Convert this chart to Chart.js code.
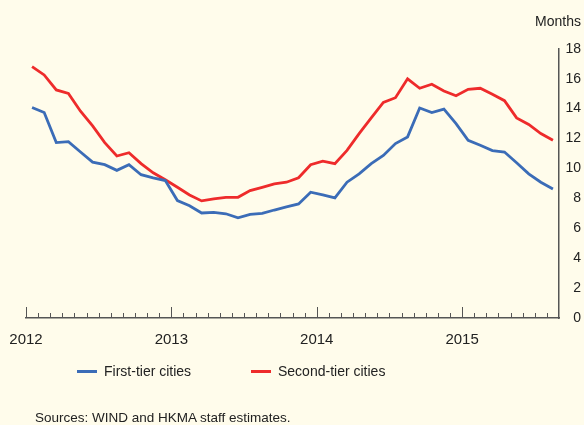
<!DOCTYPE html>
<html>
<head>
<meta charset="utf-8">
<script src="https://cdn.jsdelivr.net/npm/chart.js@4/dist/chart.umd.min.js"></script>
<style>
  html, body { margin: 0; padding: 0; background: #fffceb; }
  #wrap { position: relative; width: 584px; height: 425px; font-family: "Liberation Sans", Arial, sans-serif; color: #222; }
  #chart { position: absolute; left: 0; top: 0; }
  .legend-item { position: absolute; top: 362px; font-size: 14px; line-height: 18px; white-space: nowrap; }
  .swatch { display: inline-block; width: 20px; height: 3px; vertical-align: middle; margin-right: 7px; position: relative; top: -1px; }
  #sources { position: absolute; left: 35px; top: 410px; font-size: 13.5px; line-height: 16px; white-space: nowrap; }
</style>
</head>
<body>
<div id="wrap">
  <canvas id="chart" width="584" height="425"></canvas>
  <div class="legend-item" style="left:77px"><span class="swatch" style="background:#3b6cb7"></span>First-tier cities</div>
  <div class="legend-item" style="left:251px"><span class="swatch" style="background:#ee2b2b"></span>Second-tier cities</div>
  <div id="sources">Sources: WIND and HKMA staff estimates.</div>
</div>
<script>
// monthly values, Jan 2012 - Aug 2015
const yearLabels = ["2012", "2013", "2014", "2015"];
const axisMonths = 44; // axis runs Jan 2012 to end of Aug 2015
const firstTier = [
    14.08, 13.74, 11.73, 11.79, 11.10, 10.42, 10.25, 9.87, 10.25, 9.58, 9.37, 9.19,
    7.85, 7.51, 7.02, 7.06, 6.97, 6.70, 6.93, 6.99, 7.22, 7.43,
    7.63, 8.41, 8.23, 8.03, 9.08, 9.64, 10.32, 10.87, 11.66, 12.11,
    14.04, 13.74, 13.97, 13.00, 11.88, 11.55, 11.19, 11.10, 10.38, 9.64, 9.08, 8.63
];
const secondTier = [
    16.81, 16.25, 15.25, 15.02, 13.83, 12.84, 11.73, 10.83, 11.05, 10.32, 9.71, 9.24,
    8.74, 8.23, 7.83, 7.96, 8.07, 8.07, 8.52, 8.74, 8.97, 9.08,
    9.38, 10.25, 10.49, 10.32, 11.21, 12.33, 13.38, 14.42, 14.73, 15.99,
    15.36, 15.63, 15.18, 14.86, 15.29, 15.36, 14.96, 14.53, 13.38, 12.94, 12.33, 11.88
];

document.addEventListener("DOMContentLoaded", function () {
    const ctx = document.getElementById("chart").getContext("2d");
    const toPoints = arr => arr.map((v, i) => ({x: i + 0.5, y: v}));

    // small month ticks pointing up from the x axis, longer ones at each year
    const monthTicks = {
        id: "monthTicks",
        afterDraw(chart) {
            const xs = chart.scales.x;
            const c = chart.ctx;
            c.save();
            c.strokeStyle = "#555";
            c.lineWidth = 1;
            for (let m = 0; m < axisMonths; m++) {
                const x = Math.round(xs.getPixelForValue(m)) + 0.5;
                const len = m % 12 === 0 ? 11 : 5;
                c.beginPath();
                c.moveTo(x, xs.top);
                c.lineTo(x, xs.top - len);
                c.stroke();
            }
            c.restore();
        },
    };

    new Chart(ctx, {
        type: "line",
        data: {
            datasets: [{
                label: "First-tier cities",
                data: toPoints(firstTier),
                borderColor: "#3b6cb7",
                borderWidth: 2.8,
                pointRadius: 0,
            }, {
                label: "Second-tier cities",
                data: toPoints(secondTier),
                borderColor: "#ee2b2b",
                borderWidth: 2.8,
                pointRadius: 0,
            }],
        },
        options: {
            responsive: false,
            animation: false,
            layout: {padding: {left: 26, right: 3, top: 0, bottom: 71}},
            plugins: {
                legend: {display: false},
                tooltip: {enabled: false},
                title: {
                    display: true,
                    text: "Months",
                    align: "end",
                    color: "#222",
                    font: {family: "Liberation Sans", size: 14, weight: "normal"},
                    padding: {top: 14, bottom: 18},
                },
            },
            scales: {
                x: {
                    type: "linear",
                    min: 0,
                    max: axisMonths,
                    afterBuildTicks: scale => {
                        scale.ticks = yearLabels.map((_, i) => ({value: i * 12}));
                    },
                    afterFit: scale => {
                        scale.paddingLeft = 0;
                        scale.paddingRight = 0;
                    },
                    grid: {display: false},
                    border: {color: "#555", width: 1.5},
                    ticks: {
                        autoSkip: false,
                        maxRotation: 0,
                        padding: 5,
                        color: "#222",
                        font: {family: "Liberation Sans", size: 15},
                        callback: value => yearLabels[value / 12],
                    },
                },
                y: {
                    position: "right",
                    min: 0,
                    max: 18,
                    afterFit: scale => {
                        scale.width = 22;
                    },
                    grid: {display: false},
                    border: {color: "#555", width: 1.5},
                    ticks: {
                        stepSize: 2,
                        padding: 7,
                        crossAlign: "far",
                        color: "#222",
                        font: {family: "Liberation Sans", size: 14},
                    },
                },
            },
        },
        plugins: [monthTicks],
    });
});
</script>
</body>
</html>
